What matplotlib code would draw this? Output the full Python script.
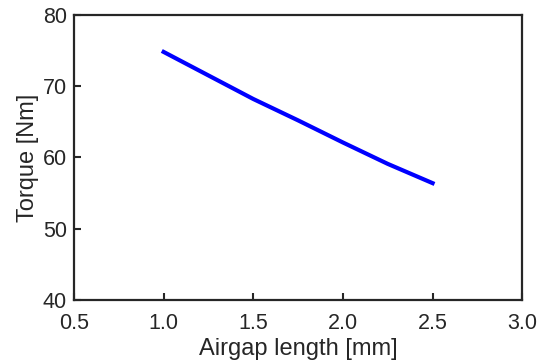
import numpy as np
import matplotlib.pyplot as plt

airgap = [1.0, 1.25, 1.5, 1.75, 2.0, 2.25, 2.5]
torque = [74.8, 71.5, 68.2, 65.2, 62.1, 59.1, 56.4]

plt.rcParams['font.family'] = ['Liberation Sans', 'DejaVu Sans']

fig = plt.figure(figsize=(5.44, 3.62), dpi=100)
ax = fig.add_axes([0.136, 0.171, 0.824, 0.788])

ax.plot(airgap, torque, color='#0000ff', linewidth=3.0)

ax.set_xlim(0.5, 3.0)
ax.set_ylim(40, 80)
ax.set_xticks(np.arange(0.5, 3.01, 0.5))
ax.set_xticklabels(['0.5', '1.0', '1.5', '2.0', '2.5', '3.0'])
ax.set_yticks([40, 50, 60, 70, 80])

for s in ax.spines.values():
    s.set_color('#262626')
    s.set_linewidth(1.6)
ax.tick_params(direction='in', length=5, width=1.5, colors='#262626',
               labelsize=15.5, top=False, right=False)
ax.tick_params(axis='x', pad=9)
ax.tick_params(axis='y', pad=5)

ax.set_xlabel('Airgap length [mm]', fontsize=17, color='#262626', labelpad=3)
ax.set_ylabel('Torque [Nm]', fontsize=17, color='#262626', labelpad=3)

fig.savefig('out.png', dpi=100)
